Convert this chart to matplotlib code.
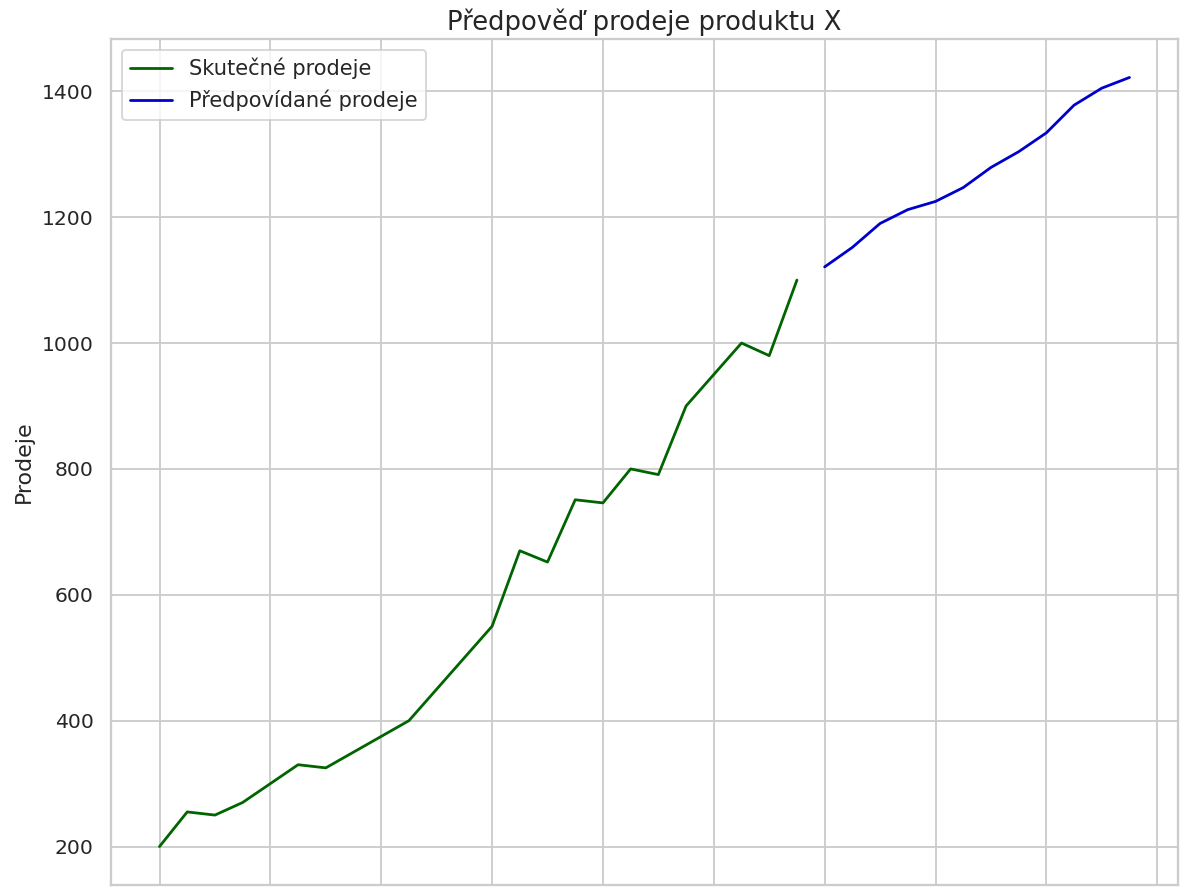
import matplotlib
matplotlib.use("Agg")
import matplotlib.pyplot as plt
import seaborn as sns
from matplotlib.ticker import MultipleLocator, NullFormatter

# Data
actual_x = list(range(0, 24))
actual_sales = [200, 255, 250, 270, 300, 330, 325, 350, 375, 400, 450, 500,
                550, 670, 652, 751, 746, 800, 791, 900, 950, 1000, 980, 1100]
forecast_x = list(range(24, 36))
forecast_sales = [1121, 1152, 1190, 1212, 1225, 1247, 1279, 1304, 1334, 1378, 1405, 1422]

title = "Předpověď prodeje produktu X"
ylabel = "Prodeje"
label_actual = "Skutečné prodeje"
label_forecast = "Předpovídané prodeje"

sns.set_theme(style="whitegrid")
plt.rcParams['font.family'] = ['DejaVu Sans']

DPI = 133
fig = plt.figure(figsize=(1192 / DPI, 896 / DPI), dpi=DPI)
ax = fig.add_axes([111 / 1192, 1 - 885 / 896, (1178 - 111) / 1192, (885 - 39) / 896])

ax.plot(actual_x, actual_sales, color="darkgreen", label=label_actual)
ax.plot(forecast_x, forecast_sales, color="mediumblue", label=label_forecast)

ax.xaxis.set_major_locator(MultipleLocator(4))
ax.xaxis.set_major_formatter(NullFormatter())
ax.set_ylabel(ylabel, fontsize=12)
ax.set_title(title, fontsize=14, pad=5)
ax.legend(loc="upper left", fontsize=11.4)

fig.savefig("out.png", dpi=DPI)
